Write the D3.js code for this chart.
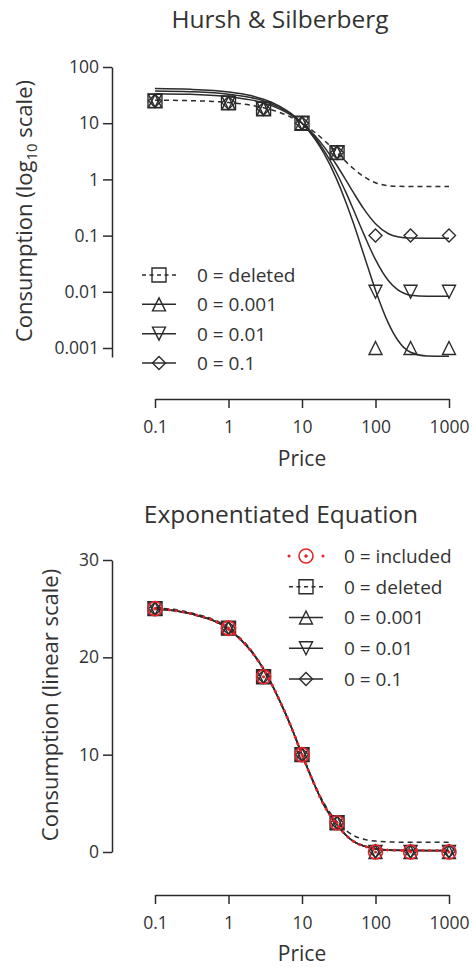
<!DOCTYPE html>
<html>
<head>
<meta charset="utf-8">
<script src="https://cdn.jsdelivr.net/npm/d3@7"></script>
<style>
body { margin: 0; background: #fff; }
text { font-family: "Open Sans", Lato, sans-serif; fill: #333; }
</style>
</head>
<body>
<script>
// Data
var prices = [0.1, 1, 3, 10, 30, 100, 300, 1000];
var consumption = [25, 23, 18, 10, 3, 0, 0, 0];
var zeroValues = [0.001, 0.01, 0.1];

// fitted curves
var curvePrices = [0.1, 0.3, 1, 2, 3, 5, 7, 10, 15, 20, 30, 40, 50, 70, 100, 150, 200, 300, 500, 1000];
var hsDeleted = [25.7, 25.2, 23.3, 20.9, 18.9, 15.5, 12.9, 10.0, 6.84, 4.96, 2.98, 2.05, 1.56, 1.11, 0.873, 0.774, 0.755, 0.75, 0.75, 0.75];
var hs0001 = [41.3, 40.1, 36.0, 31.0, 26.7, 20.0, 15.1, 10.0, 5.24, 2.87, 0.97, 0.378, 0.167, 0.044, 0.0107, 0.00274, 0.00139, 0.00084, 0.00072, 0.00071];
var hs001 = [37.5, 36.4, 32.9, 28.6, 24.9, 18.9, 14.6, 10.0, 5.56, 3.25, 1.26, 0.569, 0.291, 0.103, 0.0373, 0.0157, 0.0109, 0.0087, 0.0083, 0.0083];
var hs01 = [33.5, 32.6, 29.7, 26.0, 22.8, 17.8, 14.0, 10.0, 5.99, 3.79, 1.75, 0.952, 0.586, 0.293, 0.163, 0.108, 0.0955, 0.0906, 0.09, 0.09];

var expIncluded = [25.0, 24.5, 22.9, 20.7, 18.8, 15.5, 13.0, 10.0, 6.8, 4.8, 2.8, 1.7, 1.1, 0.6, 0.32, 0.2, 0.17, 0.16, 0.15, 0.15];
var expDeleted = [25.1, 24.6, 23.0, 20.8, 18.8, 15.5, 13.0, 10.1, 6.9, 5.0, 3.1, 2.2, 1.7, 1.3, 1.12, 1.04, 1.01, 1.0, 1.0, 1.0];
var exp0001 = [25.0, 24.5, 22.9, 20.7, 18.8, 15.5, 13.0, 10.0, 6.8, 4.8, 2.8, 1.7, 1.1, 0.6, 0.31, 0.19, 0.16, 0.15, 0.14, 0.14];
var exp001 = [25.0, 24.5, 22.9, 20.7, 18.8, 15.5, 13.0, 10.0, 6.8, 4.8, 2.8, 1.7, 1.1, 0.6, 0.32, 0.2, 0.17, 0.16, 0.15, 0.15];
var exp01 = [25.0, 24.5, 22.9, 20.7, 18.8, 15.5, 13.0, 10.0, 6.8, 4.8, 2.8, 1.7, 1.1, 0.61, 0.33, 0.21, 0.18, 0.17, 0.16, 0.16];

// Ticks
var priceTicks = [0.1, 1, 10, 100, 1000];
var priceTickLabels = ["0.1", "1", "10", "100", "1000"];
var logTicks = [0.001, 0.01, 0.1, 1, 10, 100];
var logTickLabels = ["0.001", "0.01", "0.1", "1", "10", "100"];
var linTicks = [0, 10, 20, 30];
var linTickLabels = ["0", "10", "20", "30"];

// Legends
var topLegend = ["0 = deleted", "0 = 0.001", "0 = 0.01", "0 = 0.1"];
var bottomLegend = ["0 = included", "0 = deleted", "0 = 0.001", "0 = 0.01", "0 = 0.1"];

var RED = "#e8232b";
var INK = "#2b2b2b";
var FONT = "'Open Sans', Lato, sans-serif";

var svg = d3.select("body").append("svg")
    .attr("width", 472)
    .attr("height", 967);

function minorLogTicks(lo, hi) {
    var out = [];
    for (var e = -4; e <= 3; e++) {
        for (var m = 2; m <= 9; m++) {
            var v = m * Math.pow(10, e);
            if (v >= lo * 0.999 && v <= hi * 1.001) out.push(v);
        }
    }
    return out;
}

// marker shapes, h = half size
function markerPath(shape, h) {
    if (shape == "square") return "M" + (-h) + "," + (-h) + "H" + h + "V" + h + "H" + (-h) + "Z";
    if (shape == "up") return "M0," + (-h) + "L" + h + "," + h + "L" + (-h) + "," + h + "Z";
    if (shape == "down") return "M0," + h + "L" + h + "," + (-h) + "L" + (-h) + "," + (-h) + "Z";
    if (shape == "diamond") return "M0," + (-h) + "L" + h + ",0L0," + h + "L" + (-h) + ",0Z";
}

function drawMarker(g, shape, cx, cy) {
    if (shape == "circle") {
        g.append("circle").attr("cx", cx).attr("cy", cy).attr("r", 7)
            .attr("fill", "none").attr("stroke", RED).attr("stroke-width", 1.6);
        g.append("circle").attr("cx", cx).attr("cy", cy).attr("r", 1.6).attr("fill", RED);
        return;
    }
    var h = shape == "square" ? 7 : 6.5;
    g.append("path")
        .attr("d", markerPath(shape, h))
        .attr("transform", "translate(" + cx + "," + cy + ")")
        .attr("fill", "none")
        .attr("stroke", INK)
        .attr("stroke-width", 1.4);
}

function styleAxis(g) {
    g.selectAll("path, line").attr("stroke", INK).attr("stroke-width", 1.5);
    g.selectAll("text").style("font-family", FONT).style("font-size", "17.5px").attr("fill", "#333");
}

function drawPriceAxis(x, y0) {
    var g = svg.append("g").attr("transform", "translate(0," + y0 + ")");
    g.call(d3.axisBottom(x).tickValues(minorLogTicks(0.1, 1000)).tickSize(5).tickSizeOuter(0).tickFormat(""));
    g.call(d3.axisBottom(x).tickValues(priceTicks).tickSize(9).tickSizeOuter(0).tickPadding(13)
        .tickFormat(function(d, i) { return priceTickLabels[i]; }));
    styleAxis(g);
}

function series(values) {
    return curvePrices.map(function(p, i) { return [p, values[i]]; });
}

// Top: Hursh & Silberberg
function drawTop() {
    var x = d3.scaleLog().domain([0.1, 1000]).range([155, 449]);
    var y = d3.scaleLog().domain([Math.pow(10, -3.16), 100]).range([357, 67]);

    svg.append("text").attr("x", 280).attr("y", 28).attr("text-anchor", "middle")
        .style("font-size", "24.5px").text("Hursh & Silberberg");

    var ga = svg.append("g").attr("transform", "translate(112,0)");
    ga.call(d3.axisLeft(y).tickValues(minorLogTicks(0.0007, 90)).tickSize(4.5).tickSizeOuter(0).tickFormat(""));
    ga.call(d3.axisLeft(y).tickValues(logTicks).tickSize(9).tickSizeOuter(0).tickPadding(4)
        .tickFormat(function(d, i) { return logTickLabels[i]; }));
    styleAxis(ga);

    drawPriceAxis(x, 399);

    svg.append("text").attr("x", 302).attr("y", 466).attr("text-anchor", "middle")
        .style("font-size", "21px").text("Price");

    var yl = svg.append("text")
        .attr("transform", "translate(32,211) rotate(-90)")
        .attr("text-anchor", "middle")
        .style("font-size", "22px");
    yl.append("tspan").text("Consumption (log");
    yl.append("tspan").attr("dy", 5).style("font-size", "15px").text("10");
    yl.append("tspan").attr("dy", -5).text(" scale)");

    var line = d3.line()
        .x(function(d) { return x(d[0]); })
        .y(function(d) { return y(d[1]); })
        .curve(d3.curveMonotoneX);

    var curves = [
        { v: hsDeleted, dash: "5,4" },
        { v: hs0001, dash: null },
        { v: hs001, dash: null },
        { v: hs01, dash: null }
    ];
    curves.forEach(function(c) {
        svg.append("path")
            .attr("d", line(series(c.v)))
            .attr("fill", "none")
            .attr("stroke", INK)
            .attr("stroke-width", 1.5)
            .attr("stroke-dasharray", c.dash);
    });

    var g = svg.append("g");
    prices.forEach(function(p, i) {
        if (consumption[i] > 0) drawMarker(g, "square", x(p), y(consumption[i]));
    });
    var shapes = ["up", "down", "diamond"];
    zeroValues.forEach(function(z, k) {
        prices.forEach(function(p, i) {
            var v = consumption[i] > 0 ? consumption[i] : z;
            drawMarker(g, shapes[k], x(p), y(v));
        });
    });

    // legend
    var legendShapes = ["square", "up", "down", "diamond"];
    var rowY = d3.scaleLinear().domain([0, 3]).range([275, 363]);
    topLegend.forEach(function(label, i) {
        var ly = rowY(i);
        svg.append("line").attr("x1", 142).attr("x2", 176).attr("y1", ly).attr("y2", ly)
            .attr("stroke", INK).attr("stroke-width", 1.5)
            .attr("stroke-dasharray", i == 0 ? "4,3.5" : null);
        drawMarker(svg, legendShapes[i], 159, ly);
        svg.append("text").attr("x", 197).attr("y", ly).attr("dy", "0.36em")
            .style("font-size", "19px").text(label);
    });
}

// Bottom: Exponentiated
function drawBottom() {
    var x = d3.scaleLog().domain([0.1, 1000]).range([155, 449]);
    var y = d3.scaleLinear().domain([0, 30]).range([852, 560]);

    svg.append("text").attr("x", 281).attr("y", 523).attr("text-anchor", "middle")
        .style("font-size", "24.5px").text("Exponentiated Equation");

    var ga = svg.append("g").attr("transform", "translate(112,0)");
    ga.call(d3.axisLeft(y).tickValues(linTicks).tickSize(9).tickSizeOuter(0).tickPadding(4)
        .tickFormat(function(d, i) { return linTickLabels[i]; }));
    styleAxis(ga);

    drawPriceAxis(x, 895);

    svg.append("text").attr("x", 302).attr("y", 961).attr("text-anchor", "middle")
        .style("font-size", "21px").text("Price");

    svg.append("text")
        .attr("transform", "translate(58,705) rotate(-90)")
        .attr("text-anchor", "middle")
        .style("font-size", "22px")
        .text("Consumption (linear scale)");

    var line = d3.line()
        .x(function(d) { return x(d[0]); })
        .y(function(d) { return y(d[1]); })
        .curve(d3.curveMonotoneX);

    [exp0001, exp001, exp01].forEach(function(v) {
        svg.append("path").attr("d", line(series(v)))
            .attr("fill", "none").attr("stroke", INK).attr("stroke-width", 1.5);
    });
    svg.append("path").attr("d", line(series(expDeleted)))
        .attr("fill", "none").attr("stroke", INK).attr("stroke-width", 1.5)
        .attr("stroke-dasharray", "5,4");

    var g = svg.append("g");
    prices.forEach(function(p, i) {
        if (consumption[i] > 0) drawMarker(g, "square", x(p), y(consumption[i]));
    });
    var shapes = ["up", "down", "diamond"];
    zeroValues.forEach(function(z, k) {
        prices.forEach(function(p, i) {
            var v = consumption[i] > 0 ? consumption[i] : z;
            drawMarker(g, shapes[k], x(p), y(v));
        });
    });

    svg.append("path").attr("d", line(series(expIncluded)))
        .attr("fill", "none").attr("stroke", RED).attr("stroke-width", 3)
        .attr("stroke-linecap", "round").attr("stroke-dasharray", "0.1,7");
    prices.forEach(function(p, i) {
        drawMarker(g, "circle", x(p), y(consumption[i]));
    });

    // legend
    var legendShapes = ["circle", "square", "up", "down", "diamond"];
    var rowY = d3.scaleLinear().domain([0, 4]).range([556, 679]);
    bottomLegend.forEach(function(label, i) {
        var ly = rowY(i);
        var l = svg.append("line").attr("x1", 289).attr("x2", 323).attr("y1", ly).attr("y2", ly);
        if (i == 0) {
            l.attr("stroke", RED).attr("stroke-width", 3).attr("stroke-linecap", "round")
                .attr("stroke-dasharray", "0.1,16.9");
        } else {
            l.attr("stroke", INK).attr("stroke-width", 1.5)
                .attr("stroke-dasharray", i == 1 ? "4,3.5" : null);
        }
        drawMarker(svg, legendShapes[i], 306, ly);
        svg.append("text").attr("x", 344).attr("y", ly).attr("dy", "0.36em")
            .style("font-size", "19px").text(label);
    });
}

drawTop();
drawBottom();
</script>
</body>
</html>
